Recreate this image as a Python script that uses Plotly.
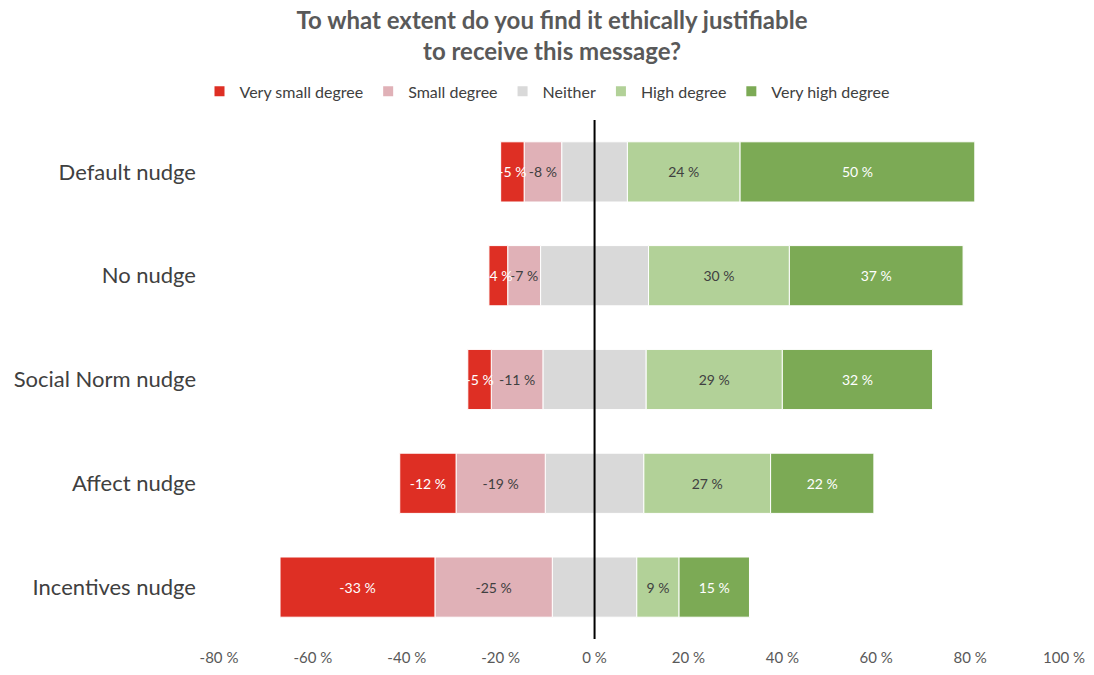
import plotly.graph_objects as go

# Survey categories, listed top to bottom
categories = ["Default nudge", "No nudge", "Social Norm nudge", "Affect nudge", "Incentives nudge"]

# Share of respondents per answer (percent)
very_small = [5, 4, 5, 12, 33]
small = [8, 7, 11, 19, 25]
neither = [14, 23, 22, 21, 18]
high = [24, 30, 29, 27, 9]
very_high = [50, 37, 32, 22, 15]

x_ticks = [-80, -60, -40, -20, 0, 20, 40, 60, 80, 100]
x_tick_labels = [f"{v} %" for v in x_ticks]

RED = "#DE2F24"
PINK = "#E0B1B7"
GREY = "#D9D9D9"
LGREEN = "#B2D198"
GREEN = "#7CAA55"
DARK_TXT = "#404040"
FONT = "Lato, Open Sans, sans-serif"

fig = go.Figure()

bar_common = dict(
    orientation="h",
    y=categories,
    width=0.58,
    marker_line=dict(color="white", width=1),
    textposition="inside",
    insidetextanchor="middle",
    textangle=0,
    hoverinfo="skip",
)

# Left half of "Neither" sits next to zero on the negative side
fig.add_trace(go.Bar(
    x=[-v / 2 for v in neither], name="Neither", marker_color=GREY,
    legendgroup="neither", showlegend=False, **bar_common,
))
fig.add_trace(go.Bar(
    x=[-v for v in small], name="Small degree", marker_color=PINK,
    text=[f"-{v} %" for v in small], textfont=dict(color=DARK_TXT, size=14, family=FONT),
    legendrank=2, **bar_common,
))
fig.add_trace(go.Bar(
    x=[-v for v in very_small], name="Very small degree", marker_color=RED,
    text=[f"-{v} %" for v in very_small], textfont=dict(color="white", size=14, family=FONT),
    legendrank=1, **bar_common,
))
# Right half of "Neither"
fig.add_trace(go.Bar(
    x=[v / 2 for v in neither], name="Neither", marker_color=GREY,
    legendgroup="neither", legendrank=3, **bar_common,
))
fig.add_trace(go.Bar(
    x=high, name="High degree", marker_color=LGREEN,
    text=[f"{v} %" for v in high], textfont=dict(color=DARK_TXT, size=14, family=FONT),
    legendrank=4, **bar_common,
))
fig.add_trace(go.Bar(
    x=very_high, name="Very high degree", marker_color=GREEN,
    text=[f"{v} %" for v in very_high], textfont=dict(color="white", size=14, family=FONT),
    legendrank=5, **bar_common,
))

# Vertical zero line
fig.add_shape(type="line", xref="x", yref="paper", x0=0, x1=0, y0=0.0, y1=1.0,
              line=dict(color="black", width=2))

fig.update_layout(
    width=1094, height=675,
    barmode="relative",
    paper_bgcolor="white", plot_bgcolor="white",
    margin=dict(l=219, r=30, t=120, b=36),
    font=dict(family=FONT, color=DARK_TXT),
    uniformtext=dict(minsize=14, mode="show"),
    title=dict(
        text="<b>To what extent do you find it ethically justifiable<br>to receive this message?</b>",
        x=552 / 1094, xref="container", xanchor="center",
        y=1 - 29 / 675, yref="container", yanchor="middle",
        font=dict(size=24, color="#595959", family=FONT),
    ),
    legend=dict(
        orientation="h", x=(547 - 219) / 845, xanchor="center", y=1.055, yanchor="middle",
        font=dict(size=16, color=DARK_TXT, family=FONT),
        traceorder="normal", itemwidth=30, itemsizing="constant",
    ),
    xaxis=dict(
        range=[-80, 100], tickvals=x_ticks, ticktext=x_tick_labels,
        showgrid=False, zeroline=False, showline=False,
        tickfont=dict(size=15, color="#595959", family=FONT),
        ticklabelstandoff=8,
        automargin=False,
        fixedrange=True,
    ),
    yaxis=dict(
        categoryorder="array", categoryarray=categories[::-1],
        range=[-0.5, 4.5],
        showgrid=False, zeroline=False, showline=False,
        tickfont=dict(size=22, color=DARK_TXT, family=FONT),
        ticklabelstandoff=22,
    ),
)

fig.write_html("out.html")
